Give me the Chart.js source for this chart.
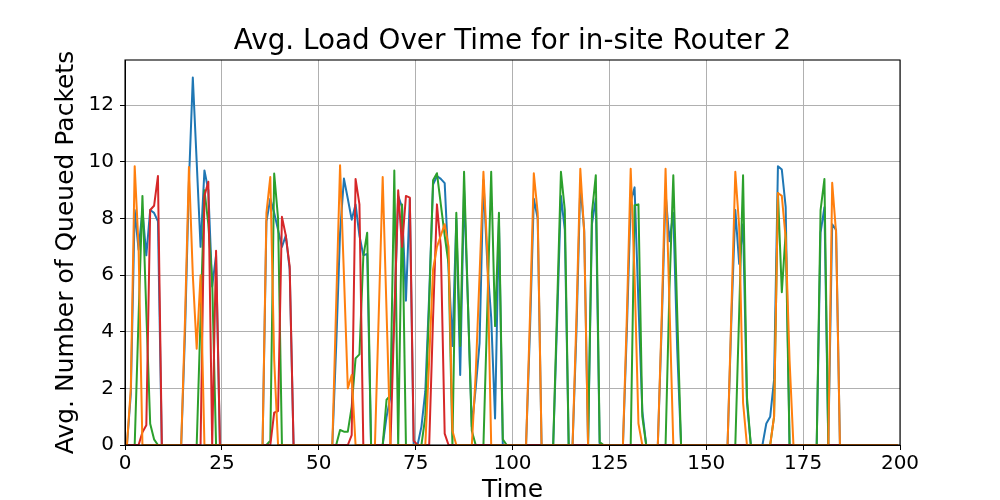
<!DOCTYPE html>
<html><head><meta charset="utf-8">
<script src="https://cdn.jsdelivr.net/npm/chart.js@4.4.0/dist/chart.umd.min.js"></script>
<style>html,body{margin:0;padding:0;background:#fff}#c{display:block}</style>
</head><body>
<canvas id="c" width="1000" height="500"></canvas>
<script>
const chartTitle = 'Avg. Load Over Time for in-site Router 2';
const xAxisTitle = 'Time';
const yAxisTitle = 'Avg. Number of Queued Packets';
const xTickValues = [0,25,50,75,100,125,150,175,200];
const yTickValues = [0,2,4,6,8,10,12];
// sample times (bin centres 0.5 ... 199.5)
const sampleTimes = Array.from({length:200},(_, i)=> i + 0.5);

const blueSeries = [
 0,1.8,8.3,6.9,8.3,6.7,8.3,8.2,7.9,0,
 0,0,0,0,0,4.0,9.3,12.98,10.0,7.0,
 9.7,9.0,5.6,6.7,0,0,0,0,0,0,
 0,0,0,0,0,0,7.9,8.7,8.2,7.6,
 7.0,7.4,6.2,0,0,0,0,0,0,0,
 0,0,0,0,3.5,7.5,9.41,8.7,7.96,8.5,
 7.4,6.7,6.75,0,0,0,0,1.0,1.7,4.5,
 8.8,8.4,5.1,8.7,0,0,0.65,1.9,5.3,9.2,
 9.5,9.4,9.25,6.3,3.5,8.0,2.47,9.0,5.0,0.65,
 2.0,3.6,9.35,6.4,4.5,0.94,7.9,0,0,0,
 0,0,0,0,4.0,8.7,8.0,0,0,0,
 0,4.3,8.8,7.6,0,0,4.0,9.2,7.6,0,
 7.8,8.7,0,0,0,0,0,0,0,4.0,
 8.6,9.1,5.0,1.2,0,0,0,0,4.2,8.9,
 7.2,8.2,3.4,0,0,0,0,0,0,0,
 0,0,0,0,0,0,4.5,8.3,6.4,7.8,
 1.5,0,0,0,0,0.76,1.0,2.3,9.85,9.73,
 8.4,0,0,0,0,0,0,0,0,7.5,
 8.4,0,7.8,7.6,0,0,0,0,0,0,
 0,0,0,0,0,0,0,0,0,0
];
const orangeSeries = [
 0,2.0,9.85,7.0,0,0,0,0,0,0,
 0,0,0,0,0,4.5,9.82,6.0,3.4,6.0,
 0,0,0,0,0,0,0,0,0,0,
 0,0,0,0,0,0,8.2,9.47,3.0,0,
 0,0,0,0,0,0,0,0,0,0,
 0,0,0,0,5.0,9.88,6.0,2.0,2.47,0,
 0,0,0,0,0,4.7,9.47,4.7,0,0,
 0,0,0,0,0,0,0,0,3.0,6.2,
 7.0,7.4,7.8,7.0,0.5,0,0,0,0,0,
 2.5,6.0,9.65,6.8,0,0,0,0,0,0,
 0,0,0,0,4.5,9.6,8.2,0,0,0,
 0,0,0,0,0,0,4.5,9.76,7.5,0,
 0,0,0,0,0,0,0,0,0,4.5,
 9.76,6.0,0.76,0,0,0,0,0,4.5,9.76,
 5.0,0,0,0,0,0,0,0,0,0,
 0,0,0,0,0,0,4.8,9.65,7.7,1.5,
 0,0,0,0,0,0,0,1.0,8.9,8.8,
 7.3,3.0,0,0,0,0,0,0,0,0,
 0,0,9.26,7.5,0,0,0,0,0,0,
 0,0,0,0,0,0,0,0,0,0
];
const greenSeries = [
 0,0,0,4.5,8.8,4.7,0.75,0.2,0,0,
 0,0,0,0,0,0,0,0,0,4.5,
 9.0,7.8,5.8,0,0,0,0,0,0,0,
 0,0,0,0,0,0,0,0.15,9.59,8.0,
 0,0,0,0,0,0,0,0,0,0,
 0,0,0,0,0,0.53,0.47,0.47,1.35,3.06,
 3.2,6.65,7.5,0,0,0,0,1.6,1.75,9.7,
 0,8.5,0,0,0,0,0,1.0,5.0,9.35,
 9.6,8.5,7.4,6.4,0,8.2,3.5,9.65,5.0,0.5,
 0,0,0,4.8,9.65,4.2,8.2,0.2,0,0,
 0,0,0,0,0,0,0,0,0,0,
 0,4.8,9.65,8.3,0,0,0,0,0,0,
 8.2,9.53,0.1,0,0,0,0,0,0,0,
 0,8.47,8.5,1.0,0,0,0,0,0,0,
 5.5,9.53,4.7,0,0,0,0,0,0,0,
 0,0,0,0,0,0,0,0,4.7,9.53,
 1.7,0,0,0,0,0,0,1.0,8.9,5.4,
 7.5,0,0,0,0,0,0,0,0,8.3,
 9.4,0,0,0,0,0,0,0,0,0,
 0,0,0,0,0,0,0,0,0,0
];
const redSeries = [
 0,0,0,0,0.45,0.7,8.3,8.45,9.5,0,
 0,0,0,0,0,0,0,0,0,0,
 8.8,9.3,0,6.86,0,0,0,0,0,0,
 0,0,0,0,0,0,0,0,1.14,1.2,
 8.06,7.4,6.3,0,0,0,0,0,0,0,
 0,0,0,0,0,0,0,0,0.35,9.4,
 8.5,0,0,0,0,0,0,0,0,4.5,
 9.0,7.0,8.8,8.74,0.15,0,0,0,0,4.5,
 8.5,7.0,0.4,0,0,0,0,0,0,0,
 0,0,0,0,0,0,0,0,0,0,
 0,0,0,0,0,0,0,0,0,0,
 0,0,0,0,0,0,0,0,0,0,
 0,0,0,0,0,0,0,0,0,0,
 0,0,0,0,0,0,0,0,0,0,
 0,0,0,0,0,0,0,0,0,0,
 0,0,0,0,0,0,0,0,0,0,
 0,0,0,0,0,0,0,0,0,0,
 0,0,0,0,0,0,0,0,0,0,
 0,0,0,0,0,0,0,0,0,0,
 0,0,0,0,0,0,0,0,0,0
];

const FONT = 'DejaVu Sans';
function pts(vals){ return vals.map((v,i)=>({x:sampleTimes[i], y:v})); }
function ds(vals, color, order){
  return {data: pts(vals), borderColor: color, backgroundColor: color, borderWidth: 2,
    pointRadius: 0, tension: 0, fill: false, order: order, borderJoinStyle: 'round', borderCapStyle: 'butt'};
}

const titlePlugin = {
  id: 'mplTitle',
  afterDraw(chart){
    const ctx = chart.ctx, a = chart.chartArea;
    ctx.save();
    ctx.fillStyle = '#000';
    ctx.font = '27.8px "' + FONT + '"';
    ctx.textAlign = 'center';
    ctx.textBaseline = 'middle';
    ctx.fillText(chartTitle, (a.left + a.right) / 2, 41.5);
    ctx.restore();
  }
};
const framePlugin = {
  id: 'frame',
  afterDatasetsDraw(chart){
    const ctx = chart.ctx, a = chart.chartArea;
    ctx.save();
    ctx.strokeStyle = '#000';
    ctx.lineWidth = 1.1;
    ctx.strokeRect(a.left, a.top, a.right - a.left, a.bottom - a.top);
    ctx.restore();
  }
};

new Chart(document.getElementById('c'), {
  type: 'line',
  data: {
    datasets: [
      ds(blueSeries, '#1f77b4', 3),
      ds(orangeSeries, '#ff7f0e', 0),
      ds(greenSeries, '#2ca02c', 2),
      ds(redSeries, '#d62728', 1)
    ]
  },
  options: {
    responsive: false, animation: false, devicePixelRatio: 1,
    layout: {padding: {top: 60, right: 100, left: 0, bottom: 0}},
    plugins: {legend: {display: false}, tooltip: {enabled: false}, title: {display: false}},
    scales: {
      x: {
        type: 'linear', min: 0, max: 200,
        afterBuildTicks: s => { s.ticks = xTickValues.map(v => ({value: v})); },
        afterFit: s => { s.height = 55; },
        ticks: {color: '#000', font: {family: FONT, size: 20}, padding: 2, maxRotation: 0, autoSkip: false},
        grid: {color: '#b0b0b0', lineWidth: 1, tickColor: '#000', tickLength: 5, tickWidth: 1},
        border: {color: '#000', width: 1},
        title: {display: true, text: xAxisTitle, color: '#000', font: {family: FONT, size: 25, lineHeight: 0.8}, padding: {top: 0, bottom: 0}}
      },
      y: {
        type: 'linear', min: 0, max: 13.6,
        afterBuildTicks: s => { s.ticks = yTickValues.map(v => ({value: v})); },
        afterFit: s => { s.width = 125; },
        ticks: {color: '#000', font: {family: FONT, size: 20}, padding: 6, autoSkip: false},
        grid: {color: '#b0b0b0', lineWidth: 1, tickColor: '#000', tickLength: 5, tickWidth: 1},
        border: {color: '#000', width: 1},
        title: {display: true, text: yAxisTitle, color: '#000', font: {family: FONT, size: 25, lineHeight: 1.2}, padding: {top: 51, bottom: 0}}
      }
    }
  },
  plugins: [titlePlugin, framePlugin]
});
</script>
</body></html>
